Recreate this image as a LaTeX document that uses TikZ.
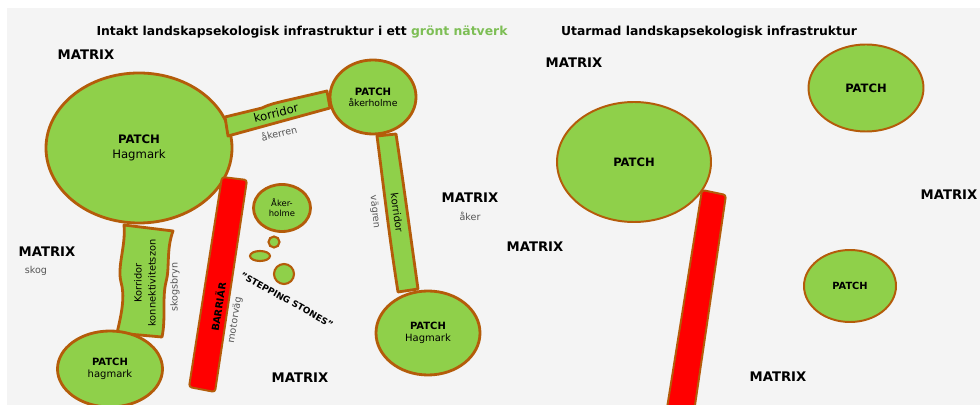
\documentclass[tikz,border=0pt]{standalone}
\usepackage{fontspec}
\setmainfont{DejaVu Sans}
\usetikzlibrary{shapes.geometric}
\usetikzlibrary{positioning}
\definecolor{patchgreen}{RGB}{143,208,74}
\definecolor{edgebrown}{RGB}{180,92,10}
\definecolor{bggray}{RGB}{244,244,244}
\definecolor{titlegreen}{RGB}{125,190,85}
\definecolor{notegray}{RGB}{85,85,85}
\tikzstyle{patch}=[draw=edgebrown,fill=patchgreen,ellipse,line width=2pt,inner sep=0pt,align=center]
\tikzstyle{corridor}=[draw=edgebrown,fill=patchgreen,line width=2pt,line join=round]
\tikzstyle{barrier}=[draw=edgebrown,fill=red,line width=1.4pt,rounded corners=2pt]
\tikzstyle{matrixtag}=[inner sep=0pt,font=\fontsize{9.4}{11}\selectfont\bfseries]
\tikzstyle{note}=[inner sep=0pt,text=notegray,font=\fontsize{6.8}{8}\selectfont]
\tikzset{psize/.style 2 args={minimum width=#1*0.025cm,minimum height=#2*0.025cm}}

\begin{document}
\begin{tikzpicture}[x=0.025cm,y=-0.025cm]
\useasboundingbox (0,0) rectangle (980,405);
\fill[bggray] (7,8) rectangle (980,405);

% titles
\node [inner sep=0pt,font=\fontsize{8.8}{10}\selectfont\bfseries] (titleL) at (302,32)
  {Intakt landskapsekologisk infrastruktur i ett \textcolor{titlegreen}{grönt nätverk}};
\node [inner sep=0pt,font=\fontsize{8.8}{10}\selectfont\bfseries] (titleR) at (709,32)
  {Utarmad landskapsekologisk infrastruktur};

% left landscape: patches
\node [patch,psize={186}{150},font=\fontsize{8.3}{10.7}\selectfont] (hagmark) at (139,148) {\textbf{PATCH}\\Hagmark};
\node [patch,psize={86}{74},font=\fontsize{6.6}{7.8}\selectfont] (akerholme) at (373,97) {\textbf{\fontsize{7.2}{7.8}\selectfont PATCH}\\åkerholme};
\node [patch,psize={104}{84},font=\fontsize{7.1}{8.5}\selectfont] (hagmarkSE) at (428,333) {\textbf{PATCH}\\Hagmark};

% corridors
\draw[corridor] (225,117) -- (262,108) .. controls (270,104) and (276,103) .. (284,101) -- (327,91) -- (330,108) -- (228,136) -- cycle;
\draw[corridor] (377,136) .. controls (384,190) and (389,235) .. (398,292) -- (418,289) .. controls (410,232) and (403,180) .. (396,134) -- cycle;
\draw[corridor] (124,225) -- (173,231) .. controls (166,250) and (170,268) .. (166,282) .. controls (162,298) and (166,318) .. (162,337) -- (117,333) .. controls (122,312) and (125,296) .. (121,282) .. controls (117,266) and (126,246) .. (124,225) -- cycle;
\node [patch,psize={105}{76},font=\fontsize{7.1}{8.5}\selectfont] (hagmarkSW) at (110,369) {\textbf{PATCH}\\hagmark};

\node [rotate=14,inner sep=0pt,font=\fontsize{8.3}{10}\selectfont] (korrN) at (276,113) {korridor};
\node [note,rotate=14] (akerren) at (279,133) {åkerren};
\node [rotate=-82,inner sep=0pt,font=\fontsize{7.2}{9}\selectfont] (korrE) at (397,213) {korridor};
\node [note,rotate=-84] (vagren) at (375,212) {vägren};
\node [rotate=90,inner sep=0pt,align=center,font=\fontsize{7}{10}\selectfont] (korrW) at (145,283) {Korridor\\konnektivitetszon};
\node [note,rotate=90] (skogsbryn) at (175,287) {skogsbryn};

% barrier
\draw[barrier] (222,177) -- (247,180) -- (215,392) -- (189,387) -- cycle;
\node [rotate=81,inner sep=0pt,font=\fontsize{7}{8}\selectfont\bfseries] (barriar) at (218,307) {BARRIÄR};
\node [note,rotate=81] (motorvag) at (235,320) {motorväg};

% stepping stones
\node [patch,psize={57}{47},font=\fontsize{6}{7}\selectfont] (akerholmeS) at (282,208) {Åker-\\holme};
\node [patch,psize={11}{11},line width=1.5pt] (stoneA) at (274,242) {};
\node [patch,psize={20}{10},line width=1.5pt] (stoneB) at (260,256) {};
\node [patch,psize={20}{20},line width=1.5pt] (stoneC) at (284,274) {};
\node [rotate=-29,inner sep=0pt,font=\fontsize{6.3}{8}\selectfont\bfseries] (stepping) at (287,300) {"STEPPING STONES"};

% matrix labels, left
\node [matrixtag] (matrixNW) at (86,55) {MATRIX};
\node [matrixtag] (matrixW) at (47,252) {MATRIX};
\node [note] (skog) at (36,271) {skog};
\node [matrixtag] (matrixE) at (470,198) {MATRIX};
\node [note,below=6pt of matrixE] (aker) {åker};
\node [matrixtag] (matrixS) at (300,378) {MATRIX};

% right landscape
\node [patch,psize={154}{120},line width=1.4pt,font=\fontsize{8.2}{10}\selectfont\bfseries] (patchW) at (634,162) {PATCH};
\node [patch,psize={115}{87},line width=1.4pt,font=\fontsize{8.2}{10}\selectfont\bfseries] (patchNE) at (866,88) {PATCH};
\node [patch,psize={92}{72},line width=1.4pt,font=\fontsize{7}{9}\selectfont\bfseries] (patchSE) at (850,286) {PATCH};
\draw[barrier] (702,190) -- (726,195) -- (694,412) -- (667,408) -- cycle;

\node [matrixtag] (matrixRN) at (574,63) {MATRIX};
\node [matrixtag] (matrixRW) at (535,247) {MATRIX};
\node [matrixtag] (matrixRE) at (949,195) {MATRIX};
\node [matrixtag] (matrixRS) at (778,377) {MATRIX};
\end{tikzpicture}
\end{document}
